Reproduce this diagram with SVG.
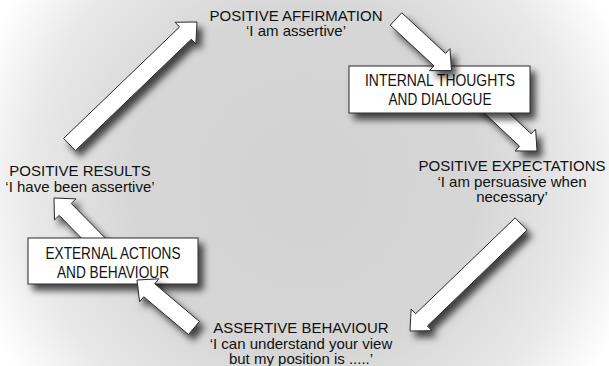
<svg xmlns="http://www.w3.org/2000/svg" width="609" height="366" viewBox="0 0 609 366">
  <defs>
    <radialGradient id="bg" gradientUnits="userSpaceOnUse" cx="305" cy="183" r="345">
      <stop offset="0" stop-color="#d2d2d2"/>
      <stop offset="0.5" stop-color="#d6d6d6"/>
      <stop offset="0.8" stop-color="#e9e9e9"/>
      <stop offset="1" stop-color="#ffffff"/>
    </radialGradient>
    <filter id="sh" x="-30%" y="-30%" width="160%" height="160%">
      <feDropShadow dx="5" dy="6" stdDeviation="3.5" flood-color="#000" flood-opacity="0.7"/>
    </filter>
  </defs>
  <style>
    .arrow { fill: #ffffff; stroke: #2a2a2a; stroke-width: 1; stroke-linejoin: miter; filter: url(#sh); }
    .box { fill: #ffffff; stroke: #2a2a2a; stroke-width: 1; filter: url(#sh); }
    .lbl { font-family: "Liberation Sans", Arial, Helvetica, sans-serif; font-size: 15px; fill: #111; text-anchor: middle; }
    .btxt { font-family: "Liberation Sans", Arial, Helvetica, sans-serif; font-size: 16.5px; fill: #111; text-anchor: middle; }
  </style>
  <rect x="0" y="0" width="609" height="366" fill="url(#bg)"/>

  <g id="connectors-under">
    <polygon class="arrow" points="464.18,94.19 519.52,146.23 515.06,150.97 537,151 535.62,129.11 531.16,133.85 475.82,81.81"/>
    <polygon class="arrow" points="116.06,249.04 71.27,203.45 75.91,198.9 54,198 54.51,219.92 59.15,215.37 103.94,260.96"/>
  </g>

  <g id="internal-box">
    <rect class="box" x="349" y="66" width="181" height="47"/>
    <text class="btxt" x="440" y="86" textLength="150" lengthAdjust="spacingAndGlyphs">INTERNAL THOUGHTS</text>
    <text class="btxt" x="440" y="105" textLength="103" lengthAdjust="spacingAndGlyphs">AND DIALOGUE</text>
  </g>

  <g id="external-box">
    <rect class="box" x="28" y="238" width="170" height="46"/>
    <text class="btxt" x="113" y="259" textLength="135" lengthAdjust="spacingAndGlyphs">EXTERNAL ACTIONS</text>
    <text class="btxt" x="113" y="278" textLength="112" lengthAdjust="spacingAndGlyphs">AND BEHAVIOUR</text>
  </g>

  <g id="connectors">
    <polygon class="arrow" points="75.39,150.63 191.35,39.21 195.85,43.9 197,22 175.07,22.26 179.57,26.95 63.61,138.37"/>
    <polygon class="arrow" points="390.22,25.23 433.99,65.85 429.57,70.62 451.5,70.5 449.97,48.62 445.55,53.39 401.78,12.77"/>
    <polygon class="arrow" points="515.1,217.88 415.62,313.78 411.11,309.1 410,331 431.93,330.7 427.42,326.02 526.9,230.12"/>
    <polygon class="arrow" points="199.47,321.5 154.71,283.81 158.9,278.84 137,280 139.58,301.78 143.77,296.81 188.53,334.5"/>
  </g>

  <g id="positive-affirmation">
    <text class="lbl" x="296" y="21">POSITIVE AFFIRMATION</text>
    <text class="lbl" x="296" y="36">‘I am assertive’</text>
  </g>
  <g id="positive-expectations">
    <text class="lbl" x="512" y="171">POSITIVE EXPECTATIONS</text>
    <text class="lbl" x="512" y="187">‘I am persuasive when</text>
    <text class="lbl" x="512" y="202">necessary’</text>
  </g>
  <g id="assertive-behaviour">
    <text class="lbl" x="301" y="333">ASSERTIVE BEHAVIOUR</text>
    <text class="lbl" x="301" y="349">‘I can understand your view</text>
    <text class="lbl" x="301" y="364">but my position is .....’</text>
  </g>
  <g id="positive-results">
    <text class="lbl" x="80" y="176">POSITIVE RESULTS</text>
    <text class="lbl" x="80" y="192">‘I have been assertive’</text>
  </g>
</svg>
